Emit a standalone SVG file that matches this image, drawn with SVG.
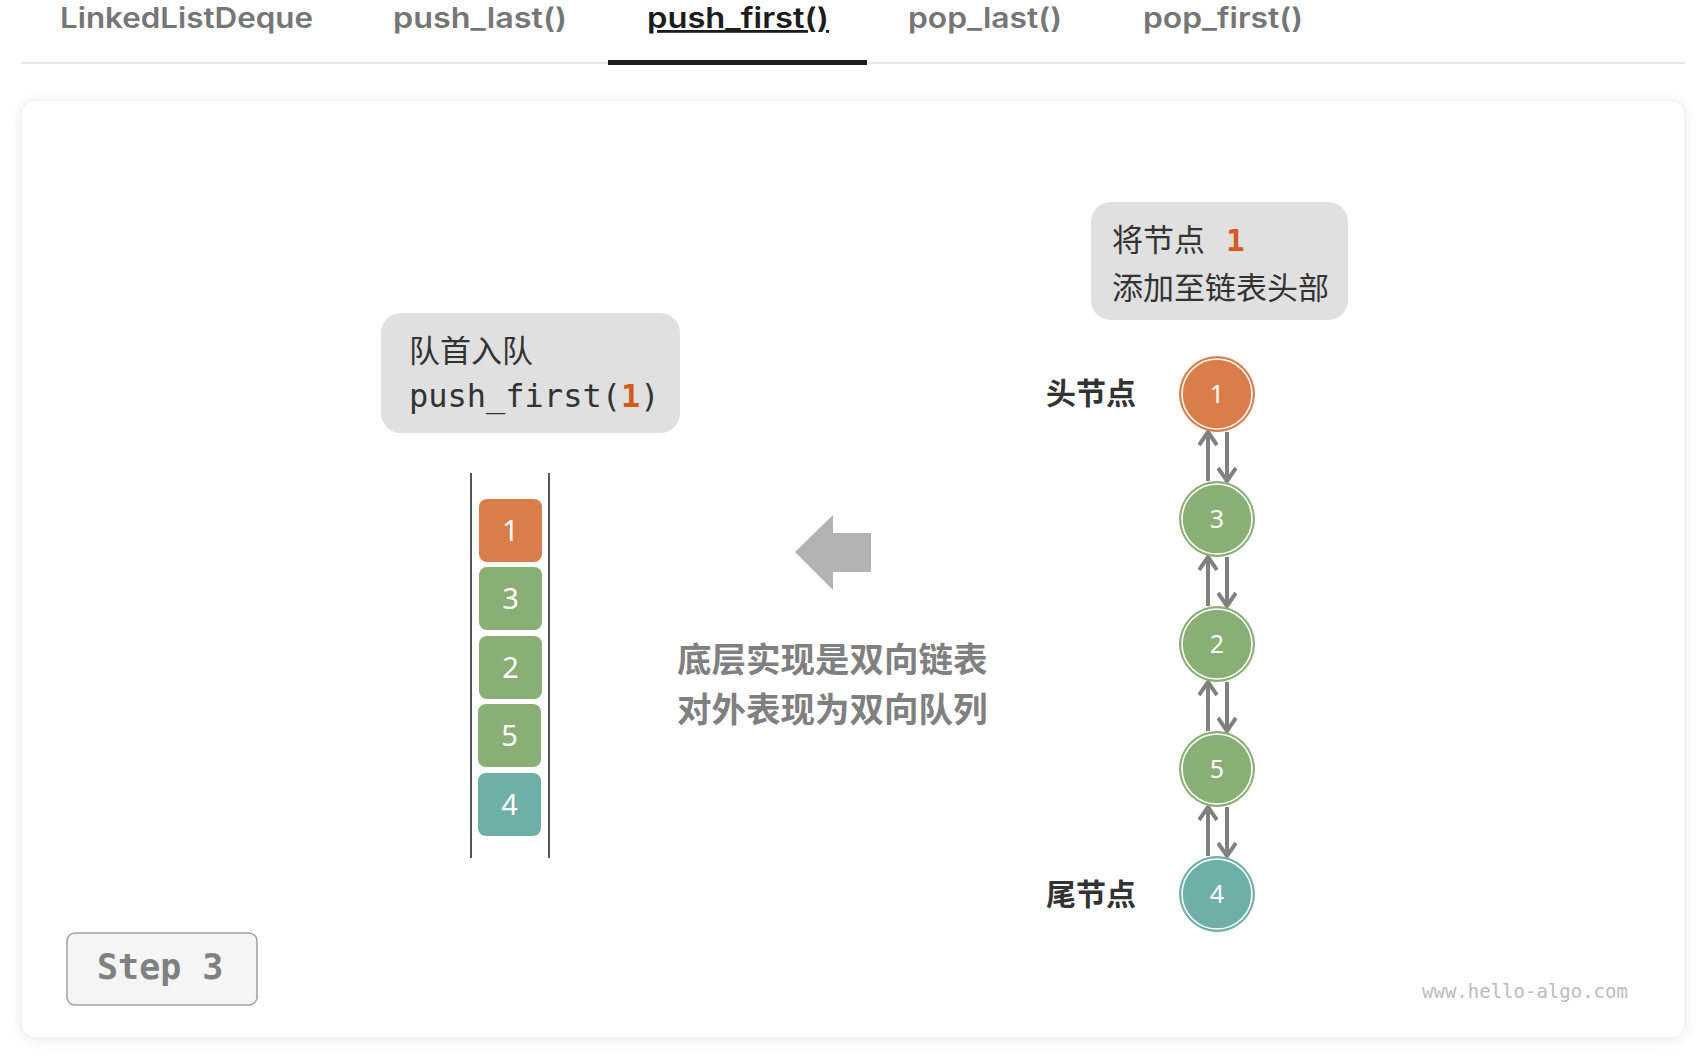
<svg xmlns="http://www.w3.org/2000/svg" width="1702" height="1056" viewBox="0 0 1702 1056">
<defs>
<style>
.tab{font-family:Inter,"Liberation Sans",sans-serif;font-weight:600;font-size:28px;fill:#767676}
.tab-on{fill:#1c1c1c}
.cjk{font-family:"Noto Sans CJK SC",sans-serif}
.mono{font-family:"DejaVu Sans Mono","Liberation Mono",monospace}
.callout{fill:#e0e0e0}
.ctext{font-size:31px;fill:#333333}
.hl{fill:#d35a1a;font-weight:bold}
.box-num{font-family:"Noto Sans",sans-serif;font-size:29px;fill:#ffffff;text-anchor:middle}
.node-num{font-family:"Noto Sans",sans-serif;font-size:25px;fill:#ffffff;text-anchor:middle}
.ring{fill:none;stroke:#ffffff;stroke-width:1.6}
.orange{fill:#db7d4b;stroke:#db7d4b}
.green{fill:#8aaf76;stroke:#8aaf76}
.teal{fill:#6eb0a7;stroke:#6eb0a7}
.link{stroke:#808080;stroke-width:4;fill:none}
.label{font-size:30px;font-weight:bold;fill:#333333}
.note{font-size:34.5px;font-weight:bold;fill:#808080}
</style>
<filter id="shadow" x="-5%" y="-5%" width="110%" height="110%">
<feDropShadow dx="0" dy="2" stdDeviation="6" flood-color="#000000" flood-opacity="0.08"/>
</filter>
<marker id="chev" viewBox="0 0 20 20" refX="17" refY="10" markerWidth="20" markerHeight="20" markerUnits="userSpaceOnUse" orient="auto">
<path d="M4,1 L17,10 L4,19" fill="none" stroke="#808080" stroke-width="4" stroke-linejoin="miter"/>
</marker>
</defs>
<rect x="0" y="0" width="1702" height="1056" fill="#ffffff"/>

<g id="tabs">
<text class="tab" x="60" y="28" textLength="253" lengthAdjust="spacingAndGlyphs">LinkedListDeque</text>
<text class="tab" x="393" y="28" textLength="174" lengthAdjust="spacingAndGlyphs">push_last()</text>
<text class="tab tab-on" x="647" y="28" textLength="182" lengthAdjust="spacingAndGlyphs" text-decoration="underline">push_first()</text>
<text class="tab" x="908" y="28" textLength="154" lengthAdjust="spacingAndGlyphs">pop_last()</text>
<text class="tab" x="1143" y="28" textLength="160" lengthAdjust="spacingAndGlyphs">pop_first()</text>
<rect x="21" y="62" width="1664" height="2" fill="#e8e8e8"/>
<rect x="608" y="60" width="259" height="5" fill="#1c1c1c"/>
</g>

<rect id="card" x="21" y="100" width="1664" height="938" rx="14" fill="#ffffff" stroke="#ebebeb" stroke-width="1" filter="url(#shadow)"/>

<g id="callout-queue">
<rect class="callout" x="381" y="313" width="299" height="120" rx="20"/>
<text class="ctext cjk" x="409" y="362">队首入队</text>
<text class="ctext mono" x="409" y="407" style="font-size:32px">push_first(<tspan class="hl">1</tspan>)</text>
</g>

<g id="callout-list">
<rect class="callout" x="1091" y="202" width="257" height="118" rx="20"/>
<text class="ctext cjk" x="1112" y="251">将节点<tspan class="hl mono" x="1226">1</tspan></text>
<text class="ctext cjk" x="1112" y="299">添加至链表头部</text>
</g>

<g id="deque">
<line x1="471" y1="473" x2="471" y2="858" stroke="#555555" stroke-width="2"/>
<line x1="549" y1="473" x2="549" y2="858" stroke="#555555" stroke-width="2"/>
<g id="q1"><rect class="orange" x="479" y="499" width="63" height="63" rx="8" stroke-width="0"/><text class="box-num" x="510.5" y="541">1</text></g>
<g id="q3"><rect class="green" x="479" y="567" width="63" height="63" rx="8" stroke-width="0"/><text class="box-num" x="510.5" y="609">3</text></g>
<g id="q2"><rect class="green" x="479" y="636" width="63" height="63" rx="8" stroke-width="0"/><text class="box-num" x="510.5" y="678">2</text></g>
<g id="q5"><rect class="green" x="478" y="704" width="63" height="63" rx="8" stroke-width="0"/><text class="box-num" x="509.5" y="746">5</text></g>
<g id="q4"><rect class="teal" x="478" y="773" width="63" height="63" rx="8" stroke-width="0"/><text class="box-num" x="509.5" y="815">4</text></g>
</g>

<g id="big-arrow">
<polygon points="795,552 833,515 833,533 871,533 871,572 833,572 833,590" fill="#b3b3b3"/>
</g>

<g id="note">
<text class="note cjk" x="677" y="672">底层实现是双向链表</text>
<text class="note cjk" x="677" y="722">对外表现为双向队列</text>
</g>

<g id="labels">
<text class="label cjk" x="1046" y="404">头节点</text>
<text class="label cjk" x="1046" y="905">尾节点</text>
</g>

<g id="connectors">
<line class="link" x1="1208" y1="481" x2="1208" y2="432" marker-end="url(#chev)"/>
<line class="link" x1="1227" y1="432" x2="1227" y2="481" marker-end="url(#chev)"/>
<line class="link" x1="1208" y1="606" x2="1208" y2="557" marker-end="url(#chev)"/>
<line class="link" x1="1227" y1="557" x2="1227" y2="606" marker-end="url(#chev)"/>
<line class="link" x1="1208" y1="731" x2="1208" y2="682" marker-end="url(#chev)"/>
<line class="link" x1="1227" y1="682" x2="1227" y2="731" marker-end="url(#chev)"/>
<line class="link" x1="1208" y1="856" x2="1208" y2="807" marker-end="url(#chev)"/>
<line class="link" x1="1227" y1="807" x2="1227" y2="856" marker-end="url(#chev)"/>
</g>

<g id="n1"><circle class="orange" cx="1217" cy="394" r="37.5" stroke-width="1"/><circle class="ring" cx="1217" cy="394" r="35"/><text class="node-num" x="1217" y="403">1</text></g>
<g id="n3"><circle class="green" cx="1217" cy="519" r="37.5" stroke-width="1"/><circle class="ring" cx="1217" cy="519" r="35"/><text class="node-num" x="1217" y="528">3</text></g>
<g id="n2"><circle class="green" cx="1217" cy="644" r="37.5" stroke-width="1"/><circle class="ring" cx="1217" cy="644" r="35"/><text class="node-num" x="1217" y="653">2</text></g>
<g id="n5"><circle class="green" cx="1217" cy="769" r="37.5" stroke-width="1"/><circle class="ring" cx="1217" cy="769" r="35"/><text class="node-num" x="1217" y="778">5</text></g>
<g id="n4"><circle class="teal" cx="1217" cy="894" r="37.5" stroke-width="1"/><circle class="ring" cx="1217" cy="894" r="35"/><text class="node-num" x="1217" y="903">4</text></g>

<g id="step">
<rect x="67" y="933" width="190" height="72" rx="8" fill="#f5f5f5" stroke="#a0a0a0" stroke-width="1.5"/>
<text class="mono" x="97" y="979" font-size="35" font-weight="bold" fill="#808080">Step 3</text>
</g>

<text id="watermark" class="mono" x="1422" y="998" font-size="19" fill="#bbbbbb">www.hello-algo.com</text>
</svg>
